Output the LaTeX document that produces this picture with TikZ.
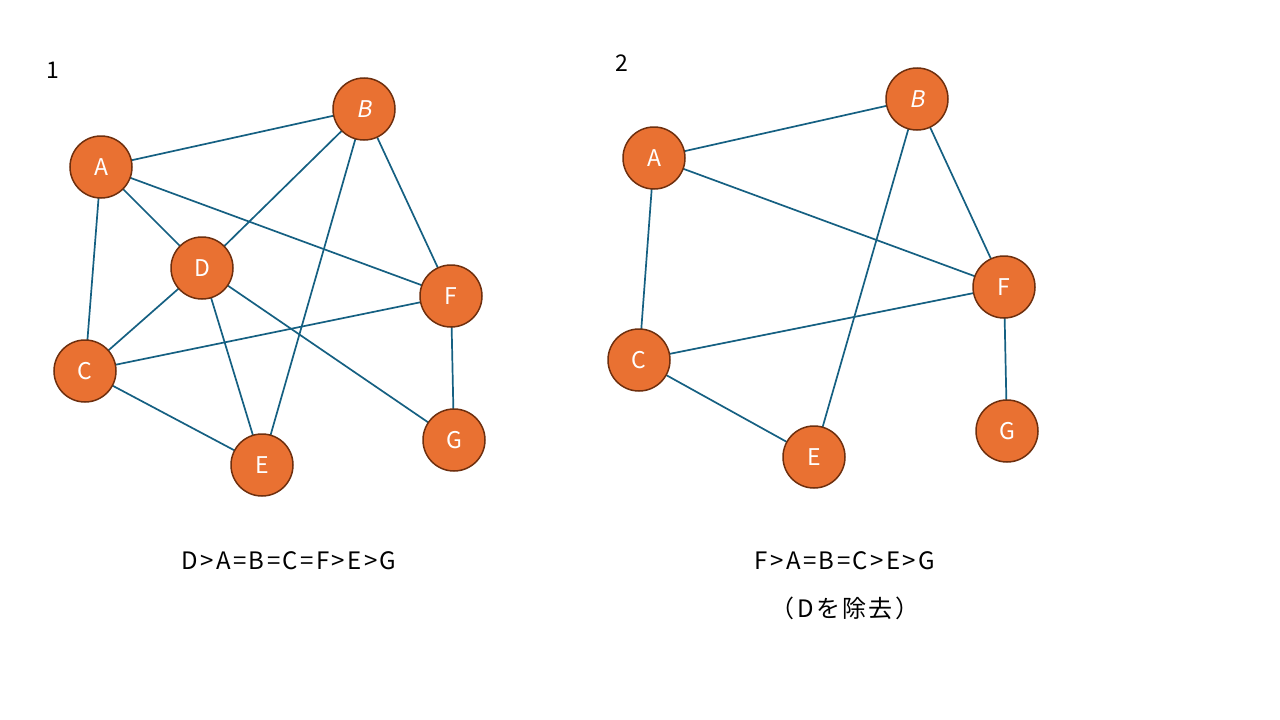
\documentclass[tikz,border=0pt]{standalone}
\usepackage{fontspec}
\setmainfont{Noto Sans CJK JP}
\newfontfamily\slantfont{Noto Sans CJK JP}[FakeSlant=0.2]
\newfontfamily\capfont{Noto Sans CJK JP}[LetterSpace=10]
\definecolor{nodefill}{HTML}{E97132}
\definecolor{nodeedge}{HTML}{6E2F0E}
\definecolor{linkcol}{HTML}{156082}
\begin{document}
\begin{tikzpicture}[x=1pt,y=-1pt,
  vert/.style={circle,fill=nodefill,draw=nodeedge,line width=1.5pt,minimum size=62pt,inner sep=0pt,
    text=white,font=\fontsize{23}{26}\selectfont},
  link/.style={draw=linkcol,line width=1.7pt},
  caption/.style={font=\capfont\fontsize{24}{28}\selectfont,text=black},
  panelno/.style={font=\fontsize{23}{26}\selectfont,text=black}]
\useasboundingbox (0,0) rectangle (1280,720);
\fill[white] (0,0) rectangle (1280,720);

% panel 1
\node[panelno] (n1) at (53,70) {1};
\coordinate (pa) at (101,167);
\coordinate (pb) at (364,109);
\coordinate (pd) at (202,268);
\coordinate (pf) at (451,296);
\coordinate (pc) at (85,371);
\coordinate (pg) at (454,440);
\coordinate (pe) at (262,465);
\foreach \u/\v in {pa/pb,pa/pd,pa/pf,pa/pc,pb/pd,pb/pe,pb/pf,pd/pc,pd/pe,pd/pg,pc/pf,pc/pe,pf/pg}
  \draw[link] (\u) -- (\v);
\node[vert] (A1) at (pa) {A};
\node[vert] (B1) at (pb) {\slantfont B};
\node[vert] (D1) at (pd) {D};
\node[vert] (F1) at (pf) {F};
\node[vert] (C1) at (pc) {C};
\node[vert] (G1) at (pg) {G};
\node[vert] (E1) at (pe) {E};
\node[caption] (cap1) at (289,561) {D>A=B=C=F>E>G};

% panel 2
\node[panelno] (n2) at (622,63) {2};
\coordinate (qa) at (654,158);
\coordinate (qb) at (917,99);
\coordinate (qf) at (1004,287);
\coordinate (qc) at (639,360);
\coordinate (qg) at (1007,431);
\coordinate (qe) at (814,457);
\foreach \u/\v in {qa/qb,qa/qf,qa/qc,qb/qe,qb/qf,qc/qf,qc/qe,qf/qg}
  \draw[link] (\u) -- (\v);
\node[vert] (A2) at (qa) {A};
\node[vert] (B2) at (qb) {\slantfont B};
\node[vert] (F2) at (qf) {F};
\node[vert] (C2) at (qc) {C};
\node[vert] (G2) at (qg) {G};
\node[vert] (E2) at (qe) {E};
\node[caption] (cap2) at (845,561) {F>A=B=C>E>G};
\node[caption] (cap3) at (845,608) {（Dを除去）};
\end{tikzpicture}
\end{document}
